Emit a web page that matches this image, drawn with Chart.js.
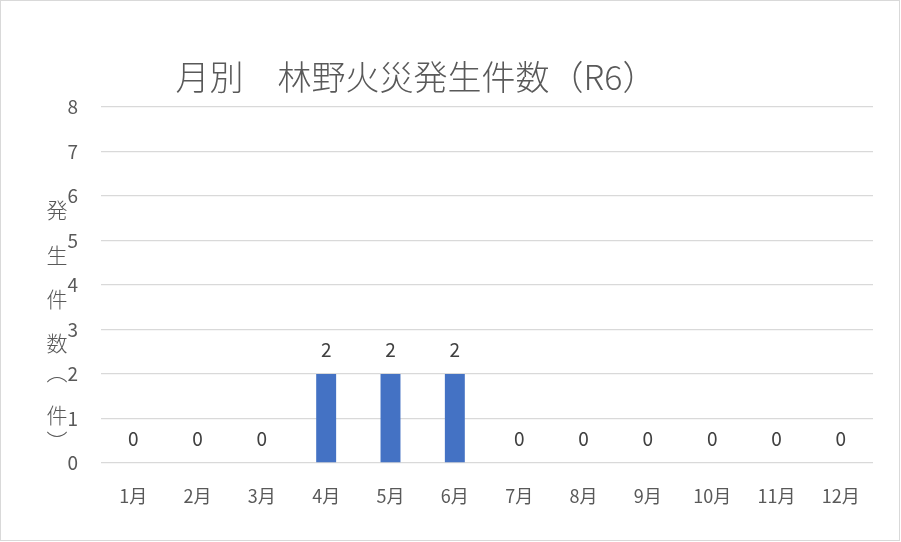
<!DOCTYPE html>
<html>
<head>
<meta charset="utf-8">
<script src="https://cdn.jsdelivr.net/npm/chart.js@4"></script>
<style>
  body { margin: 0; background: #fff; }
</style>
</head>
<body>
<canvas id="chartFuego" width="901" height="542"></canvas>
<script>
// datos del gráfico
const meses = ["1月", "2月", "3月", "4月", "5月", "6月", "7月", "8月", "9月", "10月", "11月", "12月"];
const incendios = [0, 0, 0, 2, 2, 2, 0, 0, 0, 0, 0, 0];
const ticksY = [0, 1, 2, 3, 4, 5, 6, 7, 8];
const titulo = "月別　林野火災発生件数（R6）";
const tituloEje = ["発", "生", "件", "数", "︵", "件", "︶"];

const fuente = "'Noto Sans CJK JP', 'Noto Sans', sans-serif";
const gris = "#595959";

// titulo, titulo del eje, etiquetas y borde
const extras = {
    id: "extras",
    afterDraw(chart) {
        const ctx = chart.ctx;
        const y = chart.scales.y;
        const x = chart.scales.x;
        ctx.save();
        // borde exterior
        ctx.strokeStyle = "#d9d9d9";
        ctx.lineWidth = 1;
        ctx.strokeRect(0.5, 0.5, 899, 540);
        // titulo
        ctx.fillStyle = gris;
        ctx.font = "300 34px " + fuente;
        ctx.textAlign = "center";
        ctx.textBaseline = "middle";
        ctx.fillText(titulo, 416, 77);
        // titulo del eje vertical, caracter por caracter
        ctx.font = "300 21px " + fuente;
        const posY = [210, 255, 299, 343, 372, 415, 441];
        tituloEje.forEach((c, i) => {
            ctx.fillText(c, 57, posY[i]);
        });
        // etiquetas de valores
        ctx.font = "19px " + fuente;
        ctx.fillStyle = "#404040";
        incendios.forEach((v, i) => {
            ctx.fillText(String(v), x.getPixelForValue(i), y.getPixelForValue(v) - 24);
        });
        ctx.restore();
    },
};

new Chart(document.getElementById("chartFuego"), {
    type: "bar",
    data: {
        labels: meses,
        datasets: [{
            data: incendios,
            backgroundColor: "#4472C4",
            barPercentage: 0.5,
            categoryPercentage: 0.62,
        }],
    },
    options: {
        responsive: false,
        animation: false,
        layout: {
            padding: { top: 107, right: 28, bottom: 0, left: 0 },
        },
        scales: {
            y: {
                min: 0,
                max: 8,
                afterFit: (s) => { s.width = 101; },
                afterBuildTicks: (s) => { s.ticks = ticksY.map((v) => ({ value: v })); },
                border: { display: false },
                grid: { color: "#d9d9d9", lineWidth: 1.3, drawTicks: false },
                ticks: {
                    color: gris,
                    padding: 23,
                    font: { family: fuente, size: 19 },
                },
            },
            x: {
                afterFit: (s) => { s.height = 79; },
                border: { display: false },
                grid: { display: false, drawTicks: false },
                ticks: {
                    color: gris,
                    padding: 22,
                    maxRotation: 0,
                    font: { family: fuente, size: 18 },
                },
            },
        },
        plugins: {
            legend: { display: false },
            tooltip: { enabled: false },
        },
    },
    plugins: [extras],
});
</script>
</body>
</html>
